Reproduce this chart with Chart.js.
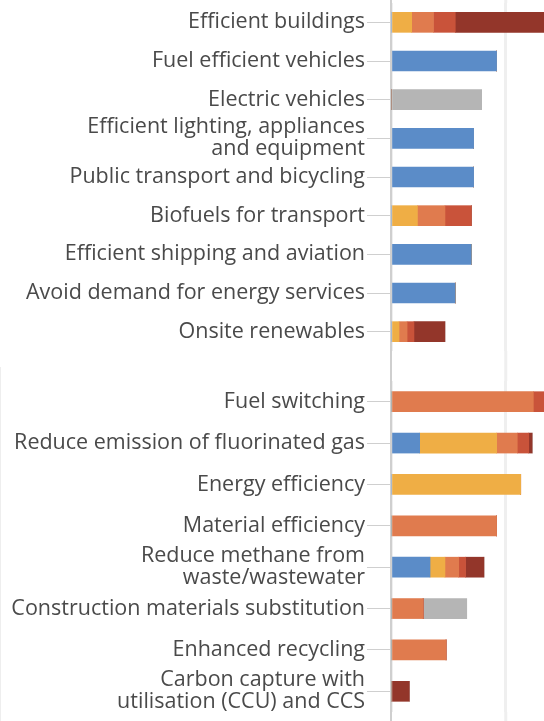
<!DOCTYPE html>
<html>
<head>
<meta charset="utf-8">
<script src="https://cdn.jsdelivr.net/npm/chart.js@4"></script>
<style>
  html, body { margin: 0; padding: 0; background: #fff; }
  #top { position: relative; width: 544px; height: 367px; }
  #bottom { position: relative; width: 544px; height: 354px; border-left: 1px solid #eeeeee; box-sizing: border-box; }
</style>
</head>
<body>
<div id="top"><canvas id="chartTop"></canvas></div>
<div id="bottom"><canvas id="chartBottom"></canvas></div>
<script>
'use strict';

// categories: first 9 = upper panel, last 8 = lower panel
let categories = [
    'Efficient buildings',
    'Fuel efficient vehicles',
    'Electric vehicles',
    ['Efficient lighting, appliances', 'and equipment'],
    'Public transport and bicycling',
    'Biofuels for transport',
    'Efficient shipping and aviation',
    'Avoid demand for energy services',
    'Onsite renewables',
    'Fuel switching',
    'Reduce emission of fluorinated gas',
    'Energy efficiency',
    'Material efficiency',
    ['Reduce methane from', 'waste/wastewater'],
    'Construction materials substitution',
    'Enhanced recycling',
    ['Carbon capture with', 'utilisation (CCU) and CCS']
];
let splitAt = 9;

// segment values (gridline = 1)
let blueVals   = [0, 0.92, 0, 0.72, 0.72, 0, 0.70, 0.56, 0, 0, 0.25, 0, 0, 0.34, 0, 0, 0];
let yellowVals = [0.18, 0, 0, 0, 0, 0.23, 0, 0, 0.07, 0, 0.67, 1.13, 0, 0.13, 0, 0, 0];
let orangeVals = [0.19, 0, 0, 0, 0, 0.24, 0, 0, 0.07, 1.24, 0.18, 0, 0.92, 0.12, 0.28, 0.48, 0];
let redVals    = [0.19, 0, 0, 0, 0, 0.23, 0, 0, 0.06, 0.12, 0.10, 0, 0, 0.06, 0, 0, 0];
let darkVals   = [0.79, 0, 0, 0, 0, 0, 0, 0, 0.27, 0, 0.03, 0, 0, 0.16, 0, 0, 0.16];
let greyVals   = [0, 0, 0.79, 0, 0, 0, 0, 0, 0, 0, 0, 0, 0, 0, 0.38, 0, 0];

let xTicks = [0, 1];

// carry the axis line and the gridline through the gap above/below the plot area
const extendLines = {
    id: 'extendLines',
    beforeDatasetsDraw(chart) {
        const { ctx, chartArea, height } = chart;
        const x = chart.scales.x;
        ctx.save();
        ctx.strokeStyle = '#efefef';
        ctx.lineWidth = 3;
        let gx = x.getPixelForValue(1);
        ctx.beginPath();
        ctx.moveTo(gx, 0); ctx.lineTo(gx, chartArea.top);
        ctx.moveTo(gx, chartArea.bottom); ctx.lineTo(gx, height);
        ctx.stroke();
        ctx.strokeStyle = '#cfcfcf';
        ctx.lineWidth = 2;
        let ax = chartArea.left;
        ctx.beginPath();
        ctx.moveTo(ax, 0); ctx.lineTo(ax, chartArea.top);
        ctx.moveTo(ax, chartArea.bottom); ctx.lineTo(ax, height);
        ctx.stroke();
        ctx.restore();
    }
};

function makeSet(label, data, color) {
    return {
        label: label,
        data: data,
        backgroundColor: color,
        borderWidth: 0,
        barThickness: 20
    };
}

function part(arr, top) {
    return top ? arr.slice(0, splitAt) : arr.slice(splitAt);
}

function makeChart(id, top, padding) {
    let ctx = document.getElementById(id).getContext('2d');
    return new Chart(ctx, {
        type: 'bar',
        data: {
            labels: part(categories, top),
            datasets: [
                makeSet('blue', part(blueVals, top), '#5b8cc8'),
                makeSet('yellow', part(yellowVals, top), '#efae45'),
                makeSet('orange', part(orangeVals, top), '#e07b4e'),
                makeSet('red', part(redVals, top), '#c9533a'),
                makeSet('dark', part(darkVals, top), '#93362a'),
                makeSet('grey', part(greyVals, top), '#b5b5b5')
            ]
        },
        plugins: [extendLines],
        options: {
            indexAxis: 'y',
            responsive: true,
            maintainAspectRatio: false,
            animation: false,
            layout: { padding: padding },
            plugins: {
                legend: { display: false },
                tooltip: { enabled: false }
            },
            scales: {
                x: {
                    stacked: true,
                    min: 0,
                    max: 1.333,
                    afterBuildTicks: function (scale) {
                        scale.ticks = xTicks.map(v => ({ value: v }));
                    },
                    ticks: { display: false },
                    grid: {
                        drawTicks: false,
                        color: '#efefef',
                        lineWidth: 3
                    },
                    border: { display: false }
                },
                y: {
                    stacked: true,
                    afterFit: function (scale) {
                        scale.width = top ? 391 : 390;
                        scale.paddingTop = 0;
                        scale.paddingBottom = 0;
                    },
                    ticks: {
                        color: '#4a4a4a',
                        padding: 2,
                        autoSkip: false,
                        font: { family: '"Open Sans", sans-serif', size: 21.5, lineHeight: 1.02 }
                    },
                    grid: {
                        offset: false,
                        drawOnChartArea: false,
                        tickLength: 24,
                        color: '#cfcfcf',
                        lineWidth: 1
                    },
                    border: { display: true, color: '#cfcfcf', width: 2 }
                }
            }
        }
    });
}

makeChart('chartTop', true, { top: 3, bottom: 16, left: 0, right: 0 });
makeChart('chartBottom', false, { top: 14, bottom: 9, left: 0, right: 0 });
</script>
</body>
</html>
